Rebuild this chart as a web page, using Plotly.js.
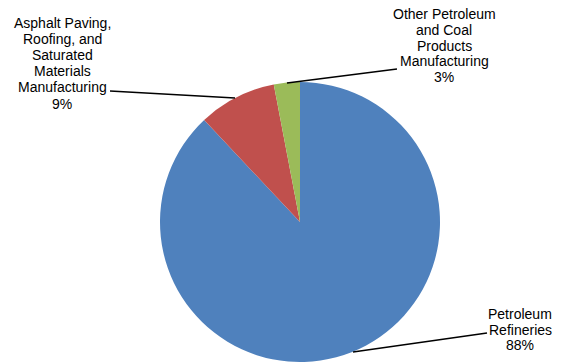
<!DOCTYPE html>
<html>
<head>
<meta charset="utf-8">
<script src="https://cdn.plot.ly/plotly-3.0.1.min.js"></script>
<style>html,body{margin:0;padding:0;background:#fff;}#chart{width:566px;height:362px;}</style>
</head>
<body>
<div id="chart"></div>
<script>
// Data
const categories = ["Petroleum Refineries", "Asphalt Paving, Roofing, and Saturated Materials Manufacturing", "Other Petroleum and Coal Products Manufacturing"];
const values = [88, 9, 3];
const colors = ["#4F81BD", "#C0504D", "#9BBB59"];
const labelLines = [
  ["Petroleum", "Refineries", "88%"],
  ["Asphalt Paving,", "Roofing, and", "Saturated", "Materials", "Manufacturing", "9%"],
  ["Other Petroleum", "and Coal", "Products", "Manufacturing", "3%"]
];

// Layout helpers (pixel positions of label blocks and leader lines)
const W = 566, H = 362;
const px = x => x / W, py = y => 1 - y / H;
const labelPos = [
  {cx: 520, y0: 314, dy: 15.6},
  {cx: 62, y0: 23, dy: 16.1},
  {cx: 444, y0: 14, dy: 15.8}
];
const leaders = [
  [487, 333, 353, 352],
  [110, 91, 235, 98],
  [397, 69, 287, 83]
];

const annotations = [];
labelLines.forEach((lines, i) => {
  lines.forEach((t, j) => {
    annotations.push({
      text: t, showarrow: false, xref: "paper", yref: "paper",
      x: px(labelPos[i].cx), y: py(labelPos[i].y0 + j * labelPos[i].dy),
      xanchor: "center", yanchor: "middle",
      font: {family: "Liberation Sans, Arial, sans-serif", size: 14, color: "#000"}
    });
  });
});
const shapes = leaders.map(l => ({
  type: "line", xref: "paper", yref: "paper",
  x0: px(l[0]), y0: py(l[1]), x1: px(l[2]), y1: py(l[3]),
  line: {color: "#000", width: 1.5}
}));

const trace = {
  type: "pie",
  labels: categories,
  values: values,
  marker: {colors: colors, line: {width: 0}},
  sort: false,
  direction: "clockwise",
  rotation: 0,
  textinfo: "none",
  hoverinfo: "none",
  domain: {x: [160 / W, 440 / W], y: [0, 1 - 82 / H]}
};

const layout = {
  width: W, height: H,
  margin: {l: 0, r: 0, t: 0, b: 0},
  showlegend: false,
  paper_bgcolor: "#fff",
  annotations: annotations,
  shapes: shapes
};

Plotly.newPlot("chart", [trace], layout, {staticPlot: true, displayModeBar: false});
</script>
</body>
</html>
